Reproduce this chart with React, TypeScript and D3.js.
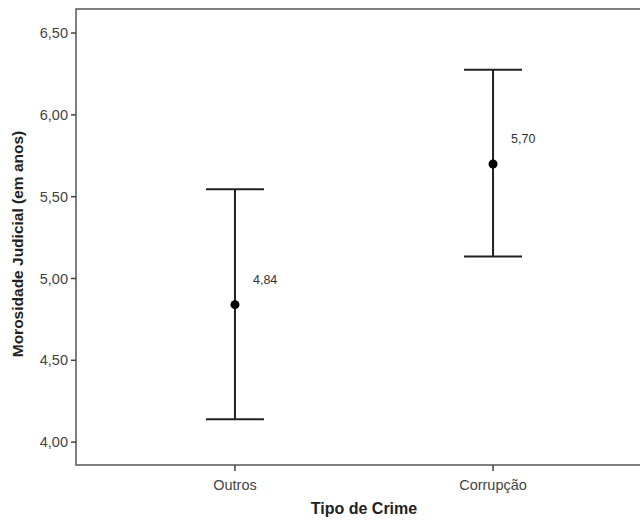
import React from "react";
import * as d3 from "d3";

const categories = ["Outros", "Corrupção"];
const means = [4.84, 5.7];
const lowerCI = [4.14, 5.135];
const upperCI = [5.545, 6.275];
const meanLabels = ["4,84", "5,70"];
const yTicks = [4.0, 4.5, 5.0, 5.5, 6.0, 6.5];

const W = 640;
const H = 521;
const left = 76;
const right = 652;
const top = 9;
const bottom = 465;

export default function App() {
  const y = d3.scaleLinear().domain([3.86, 6.647]).range([bottom, top]);
  const x = d3.scalePoint<string>().domain(categories).range([left, right]).padding(0.616);
  const cx = (i: number) => x(categories[i]) as number;
  const fmt = (v: number) => d3.format(".2f")(v).replace(".", ",");
  const font = "Liberation Sans, Arial, sans-serif";
  const ink = "#222";
  return (
    <svg width={W} height={H} style={{ position: "absolute", left: 0, top: 0, background: "#fff" }} fontFamily={font}>
      <rect x={0} y={0} width={W} height={H} fill="#fff" />
      <rect x={left} y={top} width={right - left} height={bottom - top} fill="none" stroke="#555" strokeWidth={1.5} />
      {yTicks.map((t) => (
        <g key={t}>
          <line x1={left - 5} x2={left} y1={y(t)} y2={y(t)} stroke="#444" strokeWidth={1.5} />
          <text x={left - 8} y={y(t)} dy="0.35em" textAnchor="end" fontSize={14.5} fill="#444">
            {fmt(t)}
          </text>
        </g>
      ))}
      {categories.map((c, i) => (
        <g key={c}>
          <line x1={cx(i)} x2={cx(i)} y1={bottom} y2={bottom + 6} stroke="#444" strokeWidth={1.5} />
          <text x={cx(i)} y={bottom + 25} textAnchor="middle" fontSize={14.5} fill="#444">
            {c}
          </text>
        </g>
      ))}
      {categories.map((c, i) => (
        <g key={c + "eb"}>
          <line x1={cx(i)} x2={cx(i)} y1={y(lowerCI[i])} y2={y(upperCI[i])} stroke={ink} strokeWidth={2} />
          <line x1={cx(i) - 29} x2={cx(i) + 29} y1={y(lowerCI[i])} y2={y(lowerCI[i])} stroke={ink} strokeWidth={2} />
          <line x1={cx(i) - 29} x2={cx(i) + 29} y1={y(upperCI[i])} y2={y(upperCI[i])} stroke={ink} strokeWidth={2} />
          <circle cx={cx(i)} cy={y(means[i])} r={4.5} fill="#000" />
          <text x={cx(i) + 18} y={y(means[i]) - 25} dy="0.35em" fontSize={12.5} fill="#333">
            {meanLabels[i]}
          </text>
        </g>
      ))}
      <text x={(left + right) / 2} y={bottom + 49} textAnchor="middle" fontSize={16} fontWeight="bold" fill="#222">
        Tipo de Crime
      </text>
      <text
        transform={`translate(23,${(top + bottom) / 2 + 7}) rotate(-90)`}
        textAnchor="middle"
        fontSize={15.5}
        fontWeight="bold"
        fill="#222"
      >
        Morosidade Judicial (em anos)
      </text>
    </svg>
  );
}
